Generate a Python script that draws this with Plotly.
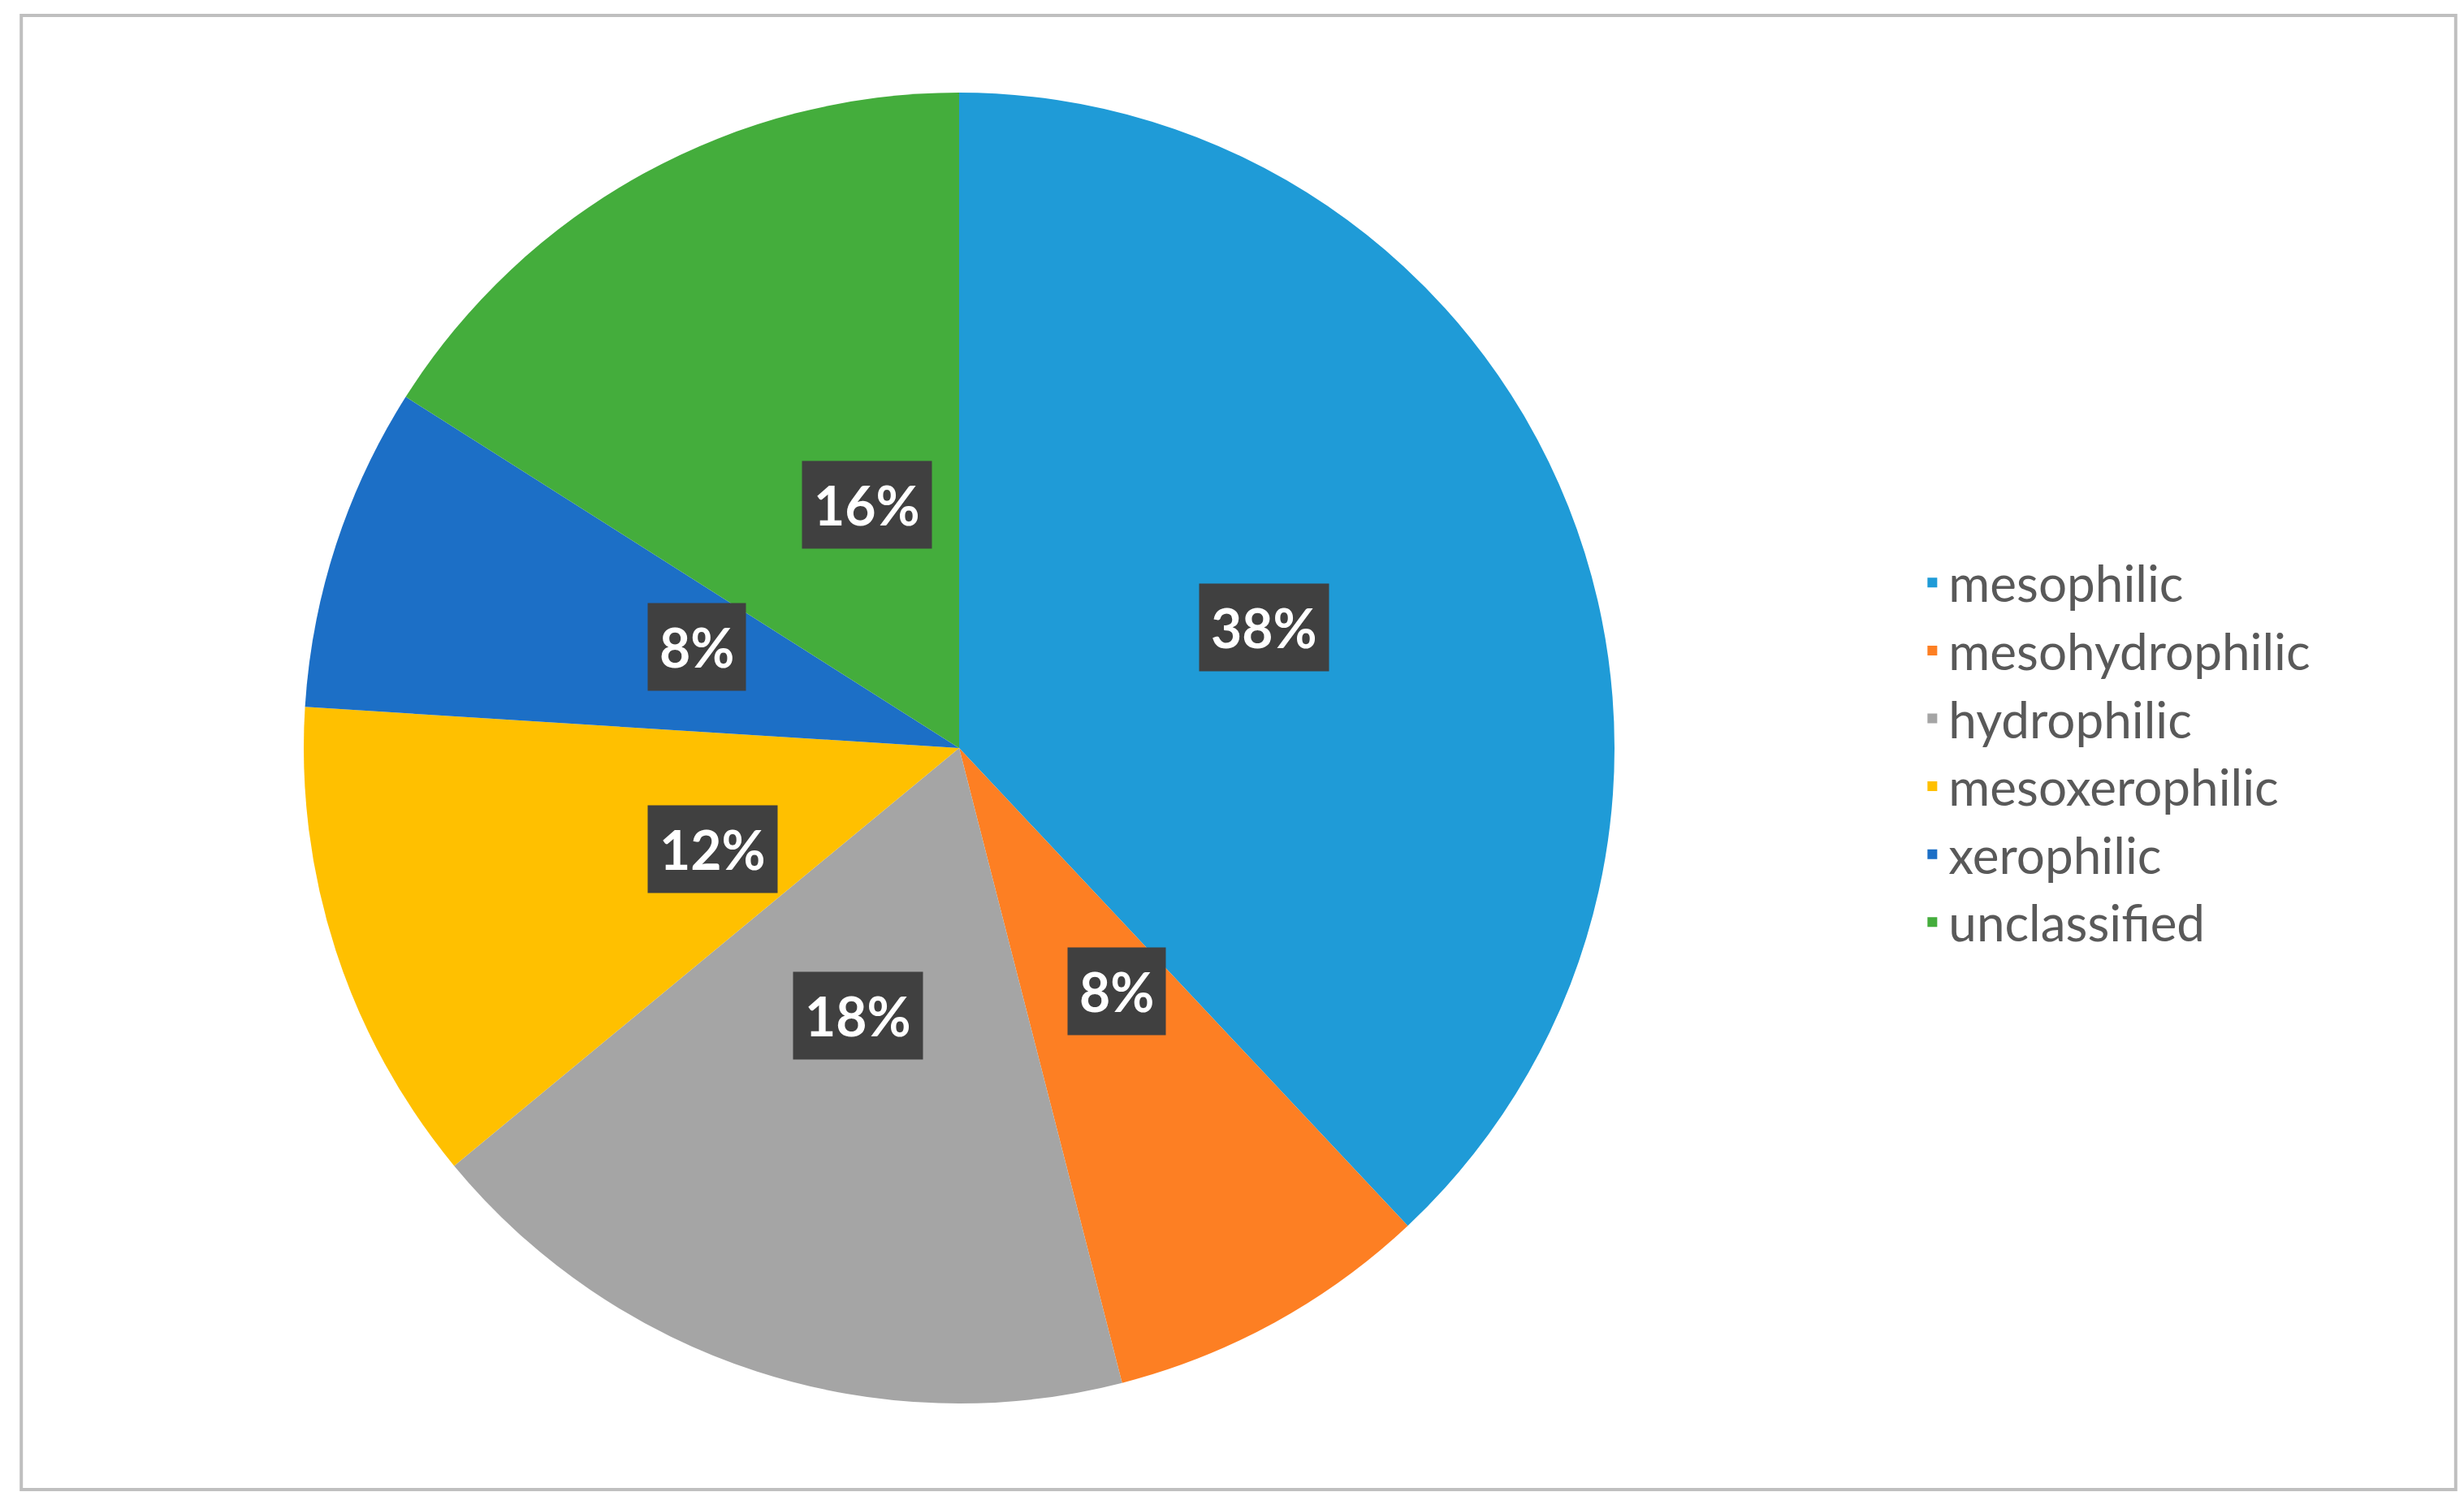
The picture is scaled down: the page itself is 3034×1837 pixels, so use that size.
import math
import plotly.graph_objects as go

categories = ["mesophilic", "mesohydrophilic", "hydrophilic", "mesoxerophilic", "xerophilic", "unclassified"]
values = [38, 8, 18, 12, 8, 16]
colors = ["#1F9BD7", "#FD7F23", "#A5A5A5", "#FFC000", "#1C6FC6", "#44AD3C"]

W, H = 3034, 1837
cx, cy, r = 1173, 913, 807  # pixels from top-left
dom_x = [(cx - r) / W, (cx + r) / W]
dom_y = [(H - cy - r) / H, (H - cy + r) / H]

fig = go.Figure(go.Pie(
    labels=categories, values=values, sort=False, direction="clockwise", rotation=0,
    marker=dict(colors=colors, line=dict(width=0)),
    textinfo="none", hoverinfo="label+percent",
    domain=dict(x=dom_x, y=dom_y),
))

total = sum(values)
cum = 0
anns = []
for v in values:
    mid = (cum + v / 2) / total * 2 * math.pi
    cum += v
    px = cx + 0.5 * r * math.sin(mid)
    py = cy - 0.5 * r * math.cos(mid)
    anns.append(dict(x=px / W, y=1 - py / H, xref="paper", yref="paper",
                     text=f"<b>{round(v / total * 100)}%</b>", showarrow=False,
                     font=dict(family="Lato", size=66, color="white"),
                     bgcolor="#404040", borderpad=14))

fig.update_layout(
    width=W, height=H, margin=dict(l=0, r=0, t=0, b=0),
    paper_bgcolor="white", plot_bgcolor="white",
    annotations=anns,
    legend=dict(x=0.775, y=0.5, xanchor="left", yanchor="middle",
                font=dict(family="Lato", size=62, color="#595959"),
                itemsizing="constant", tracegroupgap=0),
    shapes=[dict(type="rect", xref="paper", yref="paper", x0=0.006, y0=0.006, x1=0.994, y1=0.994,
                 line=dict(color="#BFBFBF", width=4))],
)
fig.write_html("out.html")
